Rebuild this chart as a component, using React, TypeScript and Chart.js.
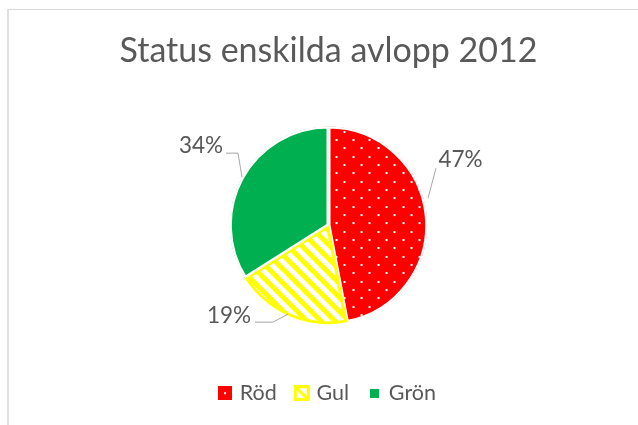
import React, { useEffect, useRef } from "react";
import { Chart, registerables } from "chart.js";

Chart.register(...registerables);

const titleText = "Status enskilda avlopp 2012";
const categories = ["Röd", "Gul", "Grön"];
const values = [47, 19, 34];

const RED = "#FF0000";
const YELLOW = "#FFFF00";
const GREEN = "#00B050";
const TEXT = "#595959";
const LEADER = "#A6A6A6";
const FONT = "Lato, 'Open Sans', sans-serif";

function makeDotPattern(ctx: CanvasRenderingContext2D) {
  const c = document.createElement("canvas");
  c.width = 50;
  c.height = 50;
  const g = c.getContext("2d")!;
  g.fillStyle = RED;
  g.fillRect(0, 0, 50, 50);
  g.fillStyle = "#FFFFFF";
  for (let i = 0; i < 3; i++) {
    for (let j = 0; j < 3; j++) {
      g.fillRect(Math.round((i * 50) / 3), Math.round((j * 50) / 3), 2, 2);
      g.fillRect(Math.round((i * 50) / 3 + 25 / 3), Math.round((j * 50) / 3 + 25 / 3), 2, 2);
    }
  }
  const p = ctx.createPattern(c, "repeat")!;
  p.setTransform(new DOMMatrix().translate(10.5, 14));
  return p;
}

function makeStripePattern(ctx: CanvasRenderingContext2D) {
  const s = 14;
  const c = document.createElement("canvas");
  c.width = s;
  c.height = s;
  const g = c.getContext("2d")!;
  g.fillStyle = "#FFFFFF";
  g.fillRect(0, 0, s, s);
  g.strokeStyle = YELLOW;
  g.lineWidth = 5;
  for (const k of [-s, 0, s]) {
    g.beginPath();
    g.moveTo(k - 3, -3);
    g.lineTo(k + s + 3, s + 3);
    g.stroke();
  }
  return ctx.createPattern(c, "repeat")!;
}

function legendKey(kind: number) {
  const c = document.createElement("canvas");
  if (kind === 0) {
    c.width = 14;
    c.height = 14;
    const g = c.getContext("2d")!;
    g.fillStyle = RED;
    g.fillRect(0, 0, 14, 14);
    g.fillStyle = "#FFFFFF";
    g.fillRect(6, 6, 2, 2);
  } else if (kind === 1) {
    c.width = 16;
    c.height = 16;
    const g = c.getContext("2d")!;
    g.fillStyle = YELLOW;
    g.fillRect(0, 0, 16, 16);
    g.fillStyle = "#FFFFFF";
    g.fillRect(3, 3, 10, 10);
    g.strokeStyle = YELLOW;
    g.lineWidth = 3;
    g.beginPath();
    g.moveTo(3, 3);
    g.lineTo(13, 13);
    g.stroke();
  } else {
    c.width = 9;
    c.height = 9;
    const g = c.getContext("2d")!;
    g.fillStyle = GREEN;
    g.fillRect(0, 0, 9, 9);
  }
  return c;
}

// label placement relative to the pie centre (text centre + leader line points)
const labelLayout = [
  { text: [132, -65], line: [[99.5, -27], [107.5, -57]] },
  { text: [-99.5, 90.5], line: [[-40.5, 89], [-55.5, 97], [-73.5, 97]] },
  { text: [-127.5, -79], line: [[-86.5, -48], [-90.5, -72], [-102.5, -72]] },
];

const outsideLabels = {
  id: "outsideLabels",
  afterDatasetsDraw(chart: any) {
    const meta = chart.getDatasetMeta(0);
    const data = chart.data.datasets[0].data as number[];
    const total = data.reduce((a, b) => a + b, 0);
    const ctx = chart.ctx as CanvasRenderingContext2D;
    ctx.save();
    meta.data.forEach((arc: any, i: number) => {
      const cx = arc.x;
      const cy = arc.y;
      const lay = labelLayout[i];
      ctx.strokeStyle = LEADER;
      ctx.lineWidth = 1;
      ctx.beginPath();
      lay.line.forEach((p, k) => {
        if (k === 0) ctx.moveTo(cx + p[0], cy + p[1]);
        else ctx.lineTo(cx + p[0], cy + p[1]);
      });
      ctx.stroke();
      ctx.fillStyle = TEXT;
      ctx.font = `22.5px ${FONT}`;
      ctx.textAlign = "center";
      ctx.textBaseline = "middle";
      const pct = Math.round((data[i] / total) * 100) + "%";
      ctx.fillText(pct, cx + lay.text[0], cy + lay.text[1]);
    });
    ctx.restore();
  },
};

export default function App() {
  const ref = useRef<HTMLCanvasElement>(null);
  useEffect(() => {
    const canvas = ref.current!;
    const ctx = canvas.getContext("2d")!;
    const fills = [makeDotPattern(ctx), makeStripePattern(ctx), GREEN];
    const keys = [legendKey(0), legendKey(1), legendKey(2)];
    const chart = new Chart(canvas, {
      type: "pie",
      data: {
        labels: categories,
        datasets: [
          {
            data: values,
            backgroundColor: fills as any,
            borderColor: ["#FFFFFF", YELLOW, "#FFFFFF"],
            borderWidth: [2, 2.5, 2],
            borderAlign: "inner",
            radius: 99,
          } as any,
        ],
      },
      options: {
        responsive: false,
        devicePixelRatio: 1,
        animation: false,
        layout: { padding: { left: 19, right: 0, top: 0, bottom: 11 } },
        plugins: {
          tooltip: { enabled: false },
          title: {
            display: true,
            text: titleText,
            color: TEXT,
            font: { family: FONT, size: 34, weight: "normal" },
            padding: { top: 31, bottom: 17 },
          },
          legend: {
            display: true,
            position: "bottom",
            labels: {
              usePointStyle: true,
              pointStyleWidth: 8,
              color: TEXT,
              font: { family: FONT, size: 21.5 },
              padding: 21,
              generateLabels: () =>
                categories.map((t, i) => ({
                  text: t,
                  fillStyle: "#000",
                  strokeStyle: "#000",
                  lineWidth: 0,
                  pointStyle: keys[i] as any,
                  hidden: false,
                  index: i,
                  fontColor: TEXT,
                })),
            },
          },
        },
      },
      plugins: [outsideLabels],
    });
    return () => chart.destroy();
  }, []);

  return (
    <div
      style={{
        position: "fixed",
        left: 0,
        top: 0,
        width: 638,
        height: 425,
        overflow: "hidden",
        background: "#FFFFFF",
      }}
    >
      <div
        style={{
          position: "absolute",
          left: 7,
          top: 9,
          width: 700,
          height: 500,
          borderTop: "1px solid #D9D9D9",
          borderLeft: "2px solid #E0E0E0",
        }}
      />
      <canvas
        ref={ref}
        width={638}
        height={425}
        style={{ position: "absolute", left: 0, top: 0, width: 638, height: 425 }}
      />
    </div>
  );
}
